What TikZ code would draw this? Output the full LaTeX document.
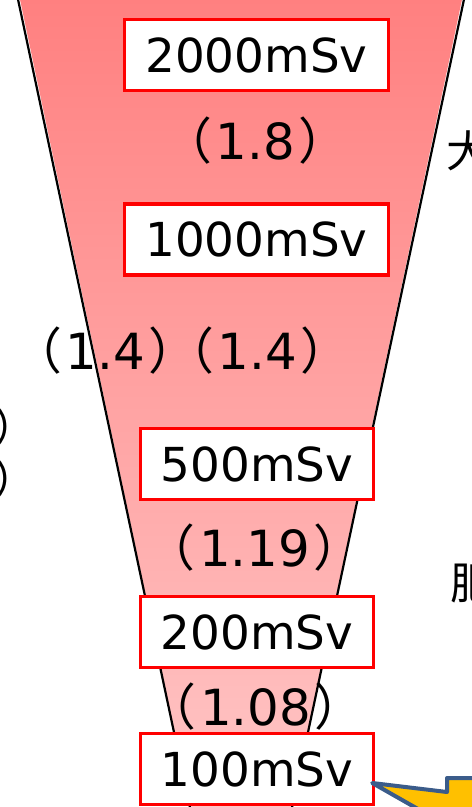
\documentclass[tikz,border=0pt]{standalone}
\usepackage{fontspec}
\setmainfont{DejaVu Sans}
\newfontfamily\jpfont{Noto Sans CJK JP}
% ratio in parentheses, with the wide brackets set tighter outside
\newcommand{\ratio}[1]{\hspace{-17bp}{\jpfont （}\hspace{3.5bp}#1\hspace{3.5bp}{\jpfont ）}\hspace{-17bp}}
\definecolor{funneltop}{RGB}{255,128,128}
\definecolor{funnelbot}{RGB}{255,198,198}
\definecolor{boxred}{RGB}{255,0,0}
\definecolor{calloutblue}{RGB}{59,92,138}
\definecolor{calloutyellow}{RGB}{255,192,0}
\begin{document}
\begin{tikzpicture}[x=1bp,y=-1bp,
  dosebox/.style={draw=boxred,line width=3.5bp,fill=white,inner sep=0pt,
    minimum height=71bp,font=\fontsize{47}{50}\selectfont},
  widebox/.style={dosebox,minimum width=264bp},
  narrowbox/.style={dosebox,minimum width=233bp},
  ratiolabel/.style={inner sep=0pt,font=\fontsize{50}{54}\selectfont},
  sidetext/.style={inner sep=0pt,font=\fontsize{44}{48}\jpfont}]
% page frame
\clip (0,0) rectangle (472,807);
% funnel with vertical gradient
\begin{scope}
  \clip (18,-10) -- (464,-10) -- (241,1047) -- cycle;
  \shade[top color=funneltop,bottom color=funnelbot] (0,-2) rectangle (472,807);
\end{scope}
\draw[line width=2.2bp] (16,-10) -- (241,1047) -- (466,-10);
% dose boxes
\node[widebox]   (d2000) at (256.5,55)  {2000mSv};
\node[widebox]   (d1000) at (256.5,239.5) {1000mSv};
\node[narrowbox] (d500)  at (257,464)   {500mSv};
\node[narrowbox] (d200)  at (257,632)   {200mSv};
\node[narrowbox] (d100)  at (257,769)   {100mSv};
% relative risk labels
\node[ratiolabel] (r18)  at (264,141) {\ratio{1.8}};
\node[ratiolabel] (r14)  at (190,351) {\ratio{1.4}\ratio{1.4}};
\node[ratiolabel] (r119) at (263,548) {\ratio{1.19}};
\node[ratiolabel] (r108) at (264,707) {\ratio{1.08}};
% text running off the edges
\node[sidetext,anchor=west] (lp1) at (-7,427) {）};
\node[sidetext,anchor=west] (lp2) at (-7,479) {）};
\node[sidetext,anchor=west] (k1) at (446,151) {大};
\node[sidetext,anchor=west] (k2) at (450,584) {肥};
% callout pointing at the 100mSv box
\coordinate (tip) at ([xshift=-3bp,yshift=-14bp]d100.east);
\draw[fill=calloutyellow,draw=calloutblue,line width=4bp,line join=round]
  (tip) -- (447,792) -- (447,778) -- (500,778) -- (500,850) -- (490,850) -- cycle;
\end{tikzpicture}
\end{document}
